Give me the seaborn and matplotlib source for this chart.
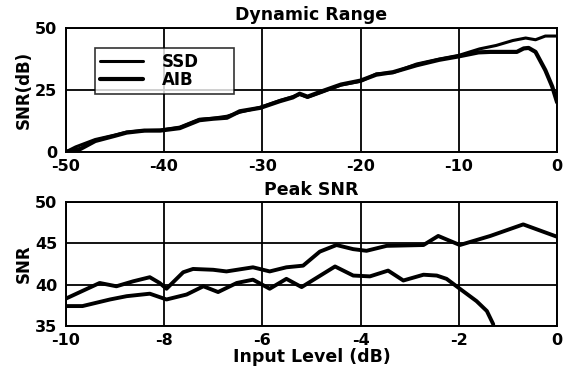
import numpy as np
import pandas as pd
import matplotlib
matplotlib.use('Agg')
import matplotlib.pyplot as plt
import seaborn as sns

# top panel: dynamic range, SNR(dB) vs input level
dr_ssd_x = [-50, -49, -47, -45, -43.8, -42, -40.4, -38.4, -36.4, -35, -33.6, -32.3, -30.2, -28.2,
            -26.9, -26.2, -25.4, -24, -23, -22, -20, -18.4, -16.7, -14.3, -12, -10, -7.9, -6.2,
            -4.5, -3.2, -2.2, -1.2, 0]
dr_ssd_y = [0, 2, 5, 6.8, 8, 8.6, 8.8, 10, 13.2, 13.6, 14.4, 16, 18, 20.8,
            22.3, 23.2, 22, 24, 25.5, 27, 28.5, 31.5, 32, 35.5, 37.5, 39, 41.6, 43,
            45, 46, 45.3, 46.8, 46.8]
dr_aib_x = [-50, -48.5, -47, -45, -43.8, -42, -40.4, -38.4, -36.4, -35, -33.6, -32.3, -30.2, -28.2,
            -26.9, -26.2, -25.4, -24, -23, -22, -20, -18.4, -16.7, -14.3, -12, -10, -8, -6.8,
            -5.5, -4.1, -3.4, -2.9, -2.2, -1.2, -0.5, 0]
dr_aib_y = [0, 1.2, 4.4, 6.5, 7.8, 8.6, 8.6, 9.6, 12.8, 13.4, 13.8, 16.4, 17.8, 20.5,
            22, 23.5, 22.3, 24.4, 25.8, 27.2, 28.8, 31.2, 32.2, 35, 37.2, 38.6, 40.2, 40.4,
            40.4, 40.4, 41.8, 42, 40.4, 33, 26.4, 20]

# bottom panel: peak SNR
pk_ssd_x = [-10, -9.71, -9.31, -8.97, -8.63, -8.29, -8.09, -7.95, -7.61, -7.41, -7.0, -6.73, -6.19,
            -5.85, -5.51, -5.17, -4.83, -4.49, -4.15, -3.88, -3.47, -2.72, -2.42, -1.98, -1.36,
            -0.69, 0]
pk_ssd_y = [38.3, 39.1, 40.2, 39.8, 40.4, 40.9, 40.2, 39.5, 41.5, 41.9, 41.8, 41.6, 42.1,
            41.6, 42.1, 42.3, 44.0, 44.8, 44.3, 44.1, 44.7, 44.8, 45.9, 44.8, 45.9,
            47.3, 45.8]
pk_aib_x = [-10, -9.66, -9.1, -8.76, -8.29, -7.95, -7.54, -7.2, -6.9, -6.52, -6.19, -5.85, -5.51,
            -5.2, -4.52, -4.15, -3.81, -3.44, -3.13, -2.72, -2.45, -2.25, -1.98, -1.64, -1.43, -1.30]
pk_aib_y = [37.4, 37.4, 38.2, 38.6, 38.9, 38.2, 38.8, 39.8, 39.1, 40.2, 40.6, 39.5, 40.7,
            39.7, 42.2, 41.1, 41.0, 41.7, 40.5, 41.2, 41.1, 40.7, 39.5, 38.0, 36.8, 35.2]


def to_long(sx, sy, ax_, ay):
    return pd.concat([
        pd.DataFrame({'x': sx, 'y': sy, 'method': 'SSD'}),
        pd.DataFrame({'x': ax_, 'y': ay, 'method': 'AIB'}),
    ], ignore_index=True)


dr = to_long(dr_ssd_x, dr_ssd_y, dr_aib_x, dr_aib_y)
pk = to_long(pk_ssd_x, pk_ssd_y, pk_aib_x, pk_aib_y)

sns.set_theme(style='white')
# the scanned labels are wide; DejaVu bold comes closest in width
plt.rcParams['font.family'] = ['DejaVu Sans']
plt.rcParams['font.weight'] = 'bold'
plt.rcParams['axes.unicode_minus'] = False
plt.rcParams['text.color'] = 'black'
plt.rcParams['axes.labelcolor'] = 'black'

fig = plt.figure(figsize=(5.72, 3.75), dpi=100)
ax1 = fig.add_axes([0.115, 0.595, 0.859, 0.330])
ax2 = fig.add_axes([0.115, 0.131, 0.859, 0.330])

pal = {'SSD': 'black', 'AIB': 'black'}
sns.lineplot(data=dr, x='x', y='y', hue='method', size='method', sizes={'SSD': 2.2, 'AIB': 3.0},
             palette=pal, sort=False, estimator=None, ax=ax1)
sns.lineplot(data=pk, x='x', y='y', hue='method', size='method', sizes={'SSD': 2.8, 'AIB': 2.8},
             palette=pal, sort=False, estimator=None, ax=ax2, legend=False)


def style(ax, xlim, ylim, xticks, yticks):
    ax.set_xlim(*xlim)
    ax.set_ylim(*ylim)
    ax.set_xticks(xticks)
    ax.set_yticks(yticks)
    ax.grid(True, color='black', linewidth=1.3)
    ax.set_axisbelow(True)
    for s in ax.spines.values():
        s.set_color('black')
        s.set_linewidth(1.4)
    ax.tick_params(length=0, labelsize=11.5, colors='black')
    ax.tick_params(axis='x', pad=5)
    ax.tick_params(axis='y', pad=6)


style(ax1, (-50, 0), (0, 50), [-50, -40, -30, -20, -10, 0], [0, 25, 50])
style(ax2, (-10, 0), (35, 50), [-10, -8, -6, -4, -2, 0], [35, 40, 45, 50])

ax1.set_title('Dynamic Range', fontsize=12.5, fontweight='bold', pad=6)
ax1.set_xlabel('')
ax1.set_ylabel('SNR(dB)', fontsize=12, fontweight='bold', labelpad=2)
ax2.set_title('Peak SNR', fontsize=12.5, fontweight='bold', pad=5)
ax2.set_xlabel('Input Level (dB)', fontsize=12.5, fontweight='bold', labelpad=0)
ax2.set_ylabel('SNR', fontsize=12, fontweight='bold', labelpad=2)

h, l = ax1.get_legend_handles_labels()
leg = ax1.legend(h, l, loc='upper left', bbox_to_anchor=(0.059, 0.476, 0.283, 0.363),
                 mode='expand', frameon=True, fancybox=False, edgecolor='black',
                 prop={'size': 12, 'weight': 'bold'}, handlelength=2.6,
                 handletextpad=1.1, borderpad=0.3, labelspacing=0.0, borderaxespad=0)
leg.get_frame().set_linewidth(1.2)

fig.savefig('out.png', dpi=100)
